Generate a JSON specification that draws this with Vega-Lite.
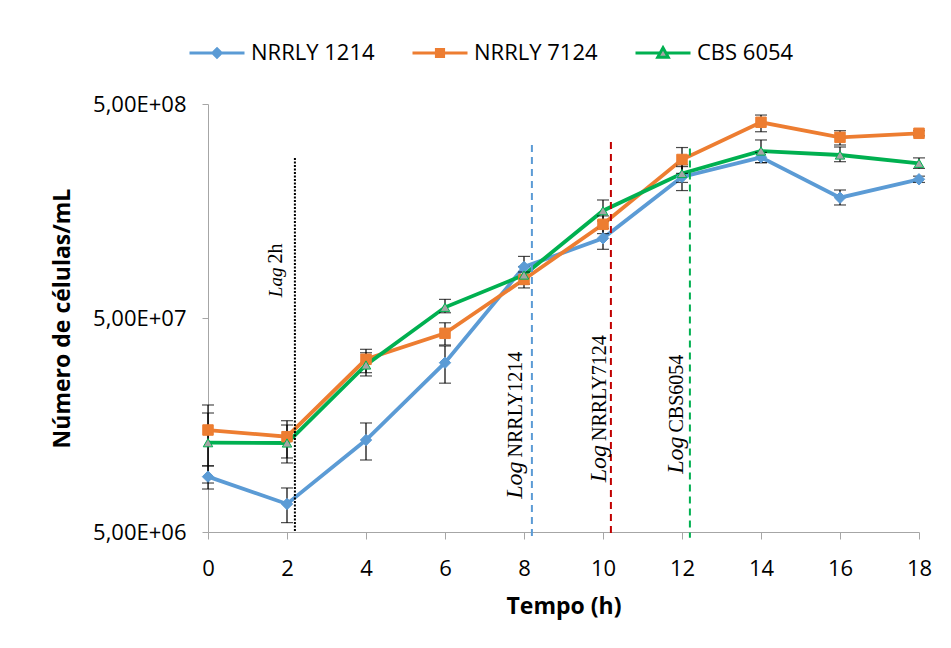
{
  "$schema": "https://vega.github.io/schema/vega-lite/v6.json",
  "width": 711,
  "height": 428,
  "autosize": {"type": "none"},
  "padding": {"left": 208, "top": 104, "right": 32, "bottom": 116},
  "background": "white",
  "config": {
    "view": {"stroke": null},
    "axis": {"grid": false, "domainColor": "#a6a6a6", "tickColor": "#a6a6a6", "labelFont": "Open Sans", "labelFontSize": 22, "labelColor": "#000000", "labelFlush": false, "labelOverlap": false, "titleFont": "Open Sans", "titleFontSize": 23, "titleFontWeight": "bold", "titleColor": "#000000"},
    "axisX": {"tickSize": 7, "labelPadding": 19, "titlePadding": 16},
    "axisY": {"tickSize": 6, "labelPadding": 16, "titlePadding": 18}
  },
  "datasets": {
    "series": [
      {"s": "NRRLY 1214", "t": 0, "v": 9.07e6, "lo": 7.94e6, "hi": 1.02e7},
      {"s": "NRRLY 1214", "t": 2, "v": 6.76e6, "lo": 5.53e6, "hi": 8.03e6},
      {"s": "NRRLY 1214", "t": 4, "v": 1.345e7, "lo": 1.085e7, "hi": 1.616e7},
      {"s": "NRRLY 1214", "t": 6, "v": 3.09e7, "lo": 2.48e7, "hi": 3.70e7},
      {"s": "NRRLY 1214", "t": 8, "v": 8.66e7, "lo": 7.7e7, "hi": 9.7e7},
      {"s": "NRRLY 1214", "t": 10, "v": 1.179e8, "lo": 1.047e8, "hi": 1.31e8},
      {"s": "NRRLY 1214", "t": 12, "v": 2.28e8, "lo": 1.97e8, "hi": 2.55e8},
      {"s": "NRRLY 1214", "t": 14, "v": 2.818e8, "lo": 2.66e8, "hi": 2.97e8},
      {"s": "NRRLY 1214", "t": 16, "v": 1.824e8, "lo": 1.687e8, "hi": 1.982e8},
      {"s": "NRRLY 1214", "t": 18, "v": 2.224e8, "lo": 2.15e8, "hi": 2.3e8},
      {"s": "NRRLY 7124", "t": 0, "v": 1.498e7, "lo": 1.017e7, "hi": 1.961e7},
      {"s": "NRRLY 7124", "t": 2, "v": 1.394e7, "lo": 1.109e7, "hi": 1.656e7},
      {"s": "NRRLY 7124", "t": 4, "v": 3.207e7, "lo": 2.776e7, "hi": 3.57e7},
      {"s": "NRRLY 7124", "t": 6, "v": 4.24e7, "lo": 3.74e7, "hi": 4.75e7},
      {"s": "NRRLY 7124", "t": 8, "v": 7.57e7, "lo": 6.91e7, "hi": 8.2e7},
      {"s": "NRRLY 7124", "t": 10, "v": 1.37e8, "lo": 1.24e8, "hi": 1.5e8},
      {"s": "NRRLY 7124", "t": 12, "v": 2.752e8, "lo": 2.37e8, "hi": 3.13e8},
      {"s": "NRRLY 7124", "t": 14, "v": 4.107e8, "lo": 3.71e8, "hi": 4.44e8},
      {"s": "NRRLY 7124", "t": 16, "v": 3.494e8, "lo": 3.217e8, "hi": 3.751e8},
      {"s": "NRRLY 7124", "t": 18, "v": 3.648e8, "lo": 3.55e8, "hi": 3.75e8},
      {"s": "CBS 6054", "t": 0, "v": 1.307e7, "lo": 8.47e6, "hi": 1.799e7},
      {"s": "CBS 6054", "t": 2, "v": 1.303e7, "lo": 1.051e7, "hi": 1.581e7},
      {"s": "CBS 6054", "t": 4, "v": 3.016e7, "lo": 2.68e7, "hi": 3.44e7},
      {"s": "CBS 6054", "t": 6, "v": 5.61e7, "lo": 5.29e7, "hi": 6.11e7},
      {"s": "CBS 6054", "t": 8, "v": 7.94e7, "lo": 7.2e7, "hi": 8.7e7},
      {"s": "CBS 6054", "t": 10, "v": 1.586e8, "lo": 1.42e8, "hi": 1.78e8},
      {"s": "CBS 6054", "t": 12, "v": 2.367e8, "lo": 2.15e8, "hi": 2.6e8},
      {"s": "CBS 6054", "t": 14, "v": 3.015e8, "lo": 2.66e8, "hi": 3.395e8},
      {"s": "CBS 6054", "t": 16, "v": 2.888e8, "lo": 2.688e8, "hi": 3.148e8},
      {"s": "CBS 6054", "t": 18, "v": 2.642e8, "lo": 2.5e8, "hi": 2.8e8}
    ],
    "vlines": [
      {"k": "lag", "t": 2.2, "top": 2.8e8, "bot": 5e6},
      {"k": "l1214", "t": 8.2, "top": 3.22e8, "bot": 4.7e6},
      {"k": "l7124", "t": 10.2, "top": 3.32e8, "bot": 4.7e6},
      {"k": "l6054", "t": 12.2, "top": 3.1e8, "bot": 4.7e6}
    ],
    "labels": [
      {"t": 1.87, "yj": 8.6e7, "pre": "Lag", "name": "2h"},
      {"t": 7.95, "yj": 1.068e7, "pre": "Log", "name": "NRRLY1214"},
      {"t": 10.07, "yj": 1.275e7, "pre": "Log", "name": "NRRLY7124"},
      {"t": 12.03, "yj": 1.397e7, "pre": "Log", "name": "CBS6054"}
    ]
  },
  "resolve": {"scale": {"color": "independent", "stroke": "independent", "fill": "independent", "shape": "independent", "strokeDash": "independent", "size": "independent"}},
  "layer": [
    {
      "data": {"name": "series"},
      "mark": {"type": "line", "strokeWidth": 3.8},
      "encoding": {
        "x": {"field": "t", "type": "quantitative", "title": "Tempo (h)", "scale": {"domain": [0, 18], "nice": false},
          "axis": {"values": [0, 2, 4, 6, 8, 10, 12, 14, 16, 18]}},
        "y": {"field": "v", "type": "quantitative", "title": "Número de células/mL", "scale": {"type": "log", "domain": [5e6, 5e8], "nice": false},
          "axis": {"values": [5e6, 5e7, 5e8], "labelExpr": "datum.value < 1e7 ? '5,00E+06' : datum.value < 1e8 ? '5,00E+07' : '5,00E+08'"}},
        "color": {"field": "s", "type": "nominal", "scale": {"domain": ["NRRLY 1214", "NRRLY 7124", "CBS 6054"], "range": ["#5B9BD5", "#ED7D31", "#00B050"]},
          "legend": {"orient": "none", "legendX": -20, "legendY": -80, "direction": "horizontal", "title": null, "symbolSize": 3025, "labelFontSize": 22, "labelFont": "Open Sans", "labelColor": "#000000", "labelOffset": 5, "columnPadding": 31, "symbolStrokeWidth": 3,
            "encode": {"symbols": {"update": {
              "shape": {"signal": "datum.value === 'NRRLY 1214' ? 'M-1,0L1,0M0,-0.15L0.15,0L0,0.15L-0.15,0Z' : datum.value === 'NRRLY 7124' ? 'M-1,0L1,0M-0.13,-0.13L0.13,-0.13L0.13,0.13L-0.13,0.13Z' : 'M-1,0L-0.1,0M0.1,0L1,0M0,-0.19L0.19,0.15L-0.19,0.15Z'"},
              "fill": {"signal": "datum.value === 'NRRLY 1214' ? '#5B9BD5' : datum.value === 'NRRLY 7124' ? '#ED7D31' : '#A5A5A5'"},
              "stroke": {"signal": "datum.value === 'NRRLY 1214' ? '#5B9BD5' : datum.value === 'NRRLY 7124' ? '#ED7D31' : '#00B050'"},
              "strokeWidth": {"value": 3},
              "opacity": {"value": 1},
              "fillOpacity": {"value": 1},
              "strokeDash": {"value": []}
            }}}}
        }
      }
    },
    {
      "data": {"name": "vlines"},
      "mark": {"type": "rule", "strokeWidth": 2, "clip": false},
      "encoding": {
        "x": {"field": "t", "type": "quantitative", "title": "Tempo (h)", "scale": {"domain": [0, 18], "nice": false}},
        "y": {"field": "top", "type": "quantitative", "title": "Número de células/mL", "scale": {"type": "log", "domain": [5e6, 5e8], "nice": false}},
        "y2": {"field": "bot"},
        "stroke": {"field": "k", "type": "nominal", "scale": {"domain": ["lag", "l1214", "l7124", "l6054"], "range": ["#000000", "#5B9BD5", "#C00000", "#00B050"]}, "legend": null},
        "strokeDash": {"field": "k", "type": "nominal", "scale": {"domain": ["lag", "l1214", "l7124", "l6054"], "range": [[2, 1.5], [7, 5], [7, 5], [7, 5]]}, "legend": null}
      }
    },
    {
      "data": {"name": "series"},
      "mark": {"type": "errorbar", "ticks": {"size": 12, "color": "#000000", "thickness": 1.2}, "rule": {"color": "#000000", "strokeWidth": 1.2}},
      "encoding": {
        "x": {"field": "t", "type": "quantitative", "title": "Tempo (h)", "scale": {"domain": [0, 18], "nice": false}},
        "y": {"field": "lo", "type": "quantitative", "title": "Número de células/mL", "scale": {"type": "log", "domain": [5e6, 5e8], "nice": false}},
        "y2": {"field": "hi"}
      }
    },
    {
      "data": {"name": "series"},
      "mark": {"type": "point", "filled": true, "opacity": 1, "strokeWidth": 1},
      "encoding": {
        "x": {"field": "t", "type": "quantitative", "title": "Tempo (h)", "scale": {"domain": [0, 18], "nice": false}},
        "y": {"field": "v", "type": "quantitative", "title": "Número de células/mL", "scale": {"type": "log", "domain": [5e6, 5e8], "nice": false}},
        "shape": {"field": "s", "type": "nominal", "scale": {"domain": ["NRRLY 1214", "NRRLY 7124", "CBS 6054"], "range": ["diamond", "square", "triangle-up"]}, "legend": null},
        "fill": {"field": "s", "type": "nominal", "scale": {"domain": ["NRRLY 1214", "NRRLY 7124", "CBS 6054"], "range": ["#5B9BD5", "#ED7D31", "#A5A5A5"]}, "legend": null},
        "stroke": {"field": "s", "type": "nominal", "scale": {"domain": ["NRRLY 1214", "NRRLY 7124", "CBS 6054"], "range": ["#5B9BD5", "#ED7D31", "#00B050"]}, "legend": null},
        "size": {"field": "s", "type": "nominal", "scale": {"domain": ["NRRLY 1214", "NRRLY 7124", "CBS 6054"], "range": [130, 90, 150]}, "legend": null}
      }
    },
    {
      "data": {"name": "labels"},
      "transform": [{"filter": "datum.pre === 'Lag'"}],
      "mark": {"type": "text", "angle": 270, "align": "right", "baseline": "alphabetic", "font": "Liberation Serif", "fontStyle": "italic", "fontSize": 19, "color": "#000000"},
      "encoding": {
        "x": {"field": "t", "type": "quantitative", "title": "Tempo (h)", "scale": {"domain": [0, 18], "nice": false}},
        "y": {"field": "yj", "type": "quantitative", "title": "Número de células/mL", "scale": {"type": "log", "domain": [5e6, 5e8], "nice": false}},
        "text": {"field": "pre"}
      }
    },
    {
      "data": {"name": "labels"},
      "transform": [{"filter": "datum.pre === 'Log'"}],
      "mark": {"type": "text", "angle": 270, "align": "right", "baseline": "alphabetic", "font": "Liberation Serif", "fontStyle": "italic", "fontSize": 24, "color": "#000000"},
      "encoding": {
        "x": {"field": "t", "type": "quantitative", "title": "Tempo (h)", "scale": {"domain": [0, 18], "nice": false}},
        "y": {"field": "yj", "type": "quantitative", "title": "Número de células/mL", "scale": {"type": "log", "domain": [5e6, 5e8], "nice": false}},
        "text": {"field": "pre"}
      }
    },
    {
      "data": {"name": "labels"},
      "mark": {"type": "text", "angle": 270, "align": "left", "baseline": "alphabetic", "dx": 4, "font": "Liberation Serif", "fontSize": 20, "color": "#000000"},
      "encoding": {
        "x": {"field": "t", "type": "quantitative", "title": "Tempo (h)", "scale": {"domain": [0, 18], "nice": false}},
        "y": {"field": "yj", "type": "quantitative", "title": "Número de células/mL", "scale": {"type": "log", "domain": [5e6, 5e8], "nice": false}},
        "text": {"field": "name"}
      }
    }
  ]
}
